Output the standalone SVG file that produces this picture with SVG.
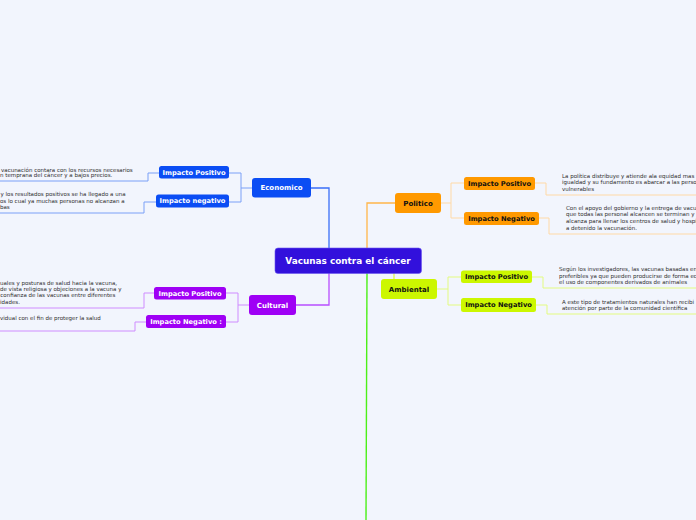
<svg xmlns="http://www.w3.org/2000/svg" width="696" height="520" viewBox="0 0 696 520">
<style>
.bg{fill:#f2f5fd}
.nt{font-family:"DejaVu Sans",Verdana,sans-serif;font-weight:bold;font-size:6.7px;text-anchor:middle}
.mt{font-family:"DejaVu Sans",Verdana,sans-serif;font-weight:bold;font-size:7px;text-anchor:middle}
.dt{font-family:"DejaVu Sans",Verdana,sans-serif;font-size:5.5px;fill:#2e2e2e}
.w{fill:#ffffff}.k{fill:#111111}
.c{fill:none;stroke-linejoin:miter}
</style>
<rect class="bg" x="0" y="0" width="696" height="520"/>
<g id="connectors">
  <path class="c" d="M329,248 V188 H311" stroke="#3a6ef8" stroke-width="1.3"/>
  <path class="c" d="M367,248 V203 H395" stroke="#ffb54a" stroke-width="1.3"/>
  <path class="c" d="M329,273 V305 H296" stroke="#b84dff" stroke-width="1.3"/>
  <path class="c" d="M394,273 V279" stroke="#d8f533" stroke-width="1.1"/>
  <path class="c" d="M367,273 L366,520" stroke="#4cf018" stroke-width="1.4"/>
  <path class="c" d="M252,188 H241 M229,173 H241 V202 H229" stroke="#7aa0f7" stroke-width="1"/>
  <path class="c" d="M159,173 H148 V181 H0 M156,202 H144 V213 H0" stroke="#7aa0f7" stroke-width="1"/>
  <path class="c" d="M249,305 H238 M226,293 H238 V322 H226" stroke="#cf8cff" stroke-width="1"/>
  <path class="c" d="M154,293 H144 V308 H0 M146,322 H135 V331 H0" stroke="#cf8cff" stroke-width="1"/>
  <path class="c" d="M441,203 H451 M464,183 H451 V218 H464" stroke="#ffd9a6" stroke-width="1"/>
  <path class="c" d="M535,183 H546 V195 H696 M539,218 H549 V234 H696" stroke="#ffd9a6" stroke-width="1"/>
  <path class="c" d="M437,289 H448 M461,277 H448 V305 H461" stroke="#e3fb80" stroke-width="1"/>
  <path class="c" d="M532,277 H543 V288 H696 M536,305 H547 V314 H696" stroke="#e3fb80" stroke-width="1"/>
</g>
<g id="central">
  <rect x="275" y="248" width="146.5" height="25.5" rx="3" fill="#3210dc" stroke="#6a55f0" stroke-width="0.6"/>
  <text x="348" y="264.2" font-family="DejaVu Sans, Verdana, sans-serif" font-weight="bold" font-size="8.9" fill="#ffffff" text-anchor="middle">Vacunas contra el cáncer</text>
</g>
<g id="economico">
  <rect x="252" y="178" width="59" height="19.5" rx="3" fill="#0b4df4"/>
  <text class="mt w" x="281.5" y="190.4">Economico</text>
</g>
<g id="econ-positivo">
  <rect x="159" y="166" width="70" height="12.5" rx="2.5" fill="#0b4df4"/>
  <text class="nt w" x="194" y="174.6">Impacto Positivo</text>
  <text class="dt" x="1" y="171.6">vacunación contara con los recursos necesarios</text>
  <text class="dt" x="0" y="177">n temprana del cáncer y a bajos precios.</text>
</g>
<g id="econ-negativo">
  <rect x="156" y="194.5" width="73" height="13" rx="2.5" fill="#0b4df4"/>
  <text class="nt w" x="192.5" y="203.4">Impacto negativo</text>
  <text class="dt" x="0.5" y="196">y los resultados positivos se ha llegado a una</text>
  <text class="dt" x="0" y="202.6">os lo cual ya muchas personas no alcanzan a</text>
  <text class="dt" x="0" y="209.4">bas</text>
</g>
<g id="cultural">
  <rect x="249" y="295" width="47" height="20" rx="3" fill="#9f00f5"/>
  <text class="mt w" x="272.5" y="307.5">Cultural</text>
</g>
<g id="cult-positivo">
  <rect x="154" y="287" width="72" height="12.5" rx="2.5" fill="#9f00f5"/>
  <text class="nt w" x="190" y="295.6">Impacto Positivo</text>
  <text class="dt" x="0" y="284.6">uales y posturas de salud hacia la vacuna,</text>
  <text class="dt" x="0" y="290.8">de vista religiosa y objeciones a la vacuna y</text>
  <text class="dt" x="0.3" y="297.2">confianza de las vacunas entre diferentes</text>
  <text class="dt" x="0" y="303.6">idades.</text>
</g>
<g id="cult-negativo">
  <rect x="146" y="315" width="80" height="13" rx="2.5" fill="#9f00f5"/>
  <text class="nt w" x="186" y="323.9">Impacto Negativo :</text>
  <text class="dt" x="0" y="320.2">vidual con el fin de proteger la salud</text>
</g>
<g id="politico">
  <rect x="395" y="193" width="46" height="20" rx="3" fill="#ff9900"/>
  <text class="mt k" x="418" y="205.5">Politico</text>
</g>
<g id="pol-positivo">
  <rect x="464" y="177" width="71" height="13" rx="2.5" fill="#ff9900"/>
  <text class="nt k" x="499.5" y="185.9">Impacto Positivo</text>
  <text class="dt" x="562" y="177.6">La política distribuye y atiende ala equidad mas</text>
  <text class="dt" x="562" y="184.4">igualdad y su fundamento es abarcar a las perso</text>
  <text class="dt" x="562" y="190.9">vulnerables</text>
</g>
<g id="pol-negativo">
  <rect x="464" y="212" width="75" height="13" rx="2.5" fill="#ff9900"/>
  <text class="nt k" x="501.5" y="220.9">Impacto Negativo</text>
  <text class="dt" x="566" y="210.2">Con el apoyo del gobierno y la entrega de vacu</text>
  <text class="dt" x="566" y="216.4">que todas las personal alcancen se terminan y</text>
  <text class="dt" x="566" y="222.9">alcanza para llenar los centros de salud y hospi</text>
  <text class="dt" x="566" y="229.5">a detenido la vacunación.</text>
</g>
<g id="ambiental">
  <rect x="381" y="279" width="56" height="20" rx="3" fill="#ccf700"/>
  <text class="mt k" x="409" y="291.5">Ambiental</text>
</g>
<g id="amb-positivo">
  <rect x="461" y="270.5" width="71" height="12.5" rx="2.5" fill="#ccf700"/>
  <text class="nt k" x="496.5" y="279.2">Impacto Positivo</text>
  <text class="dt" x="559" y="270.9">Según los investigadores, las vacunas basadas en</text>
  <text class="dt" x="559" y="277.5">preferibles ya que pueden producirse de forma ec</text>
  <text class="dt" x="559" y="284.1">el uso de componentes derivados de animales</text>
</g>
<g id="amb-negativo">
  <rect x="461" y="298" width="75" height="14" rx="2.5" fill="#ccf700"/>
  <text class="nt k" x="498.5" y="307.4">Impacto Negativo</text>
  <text class="dt" x="562" y="304.1">A este tipo de tratamientos naturales han recibi</text>
  <text class="dt" x="562" y="309.6">atención por parte de la comunidad científica</text>
</g>
</svg>
